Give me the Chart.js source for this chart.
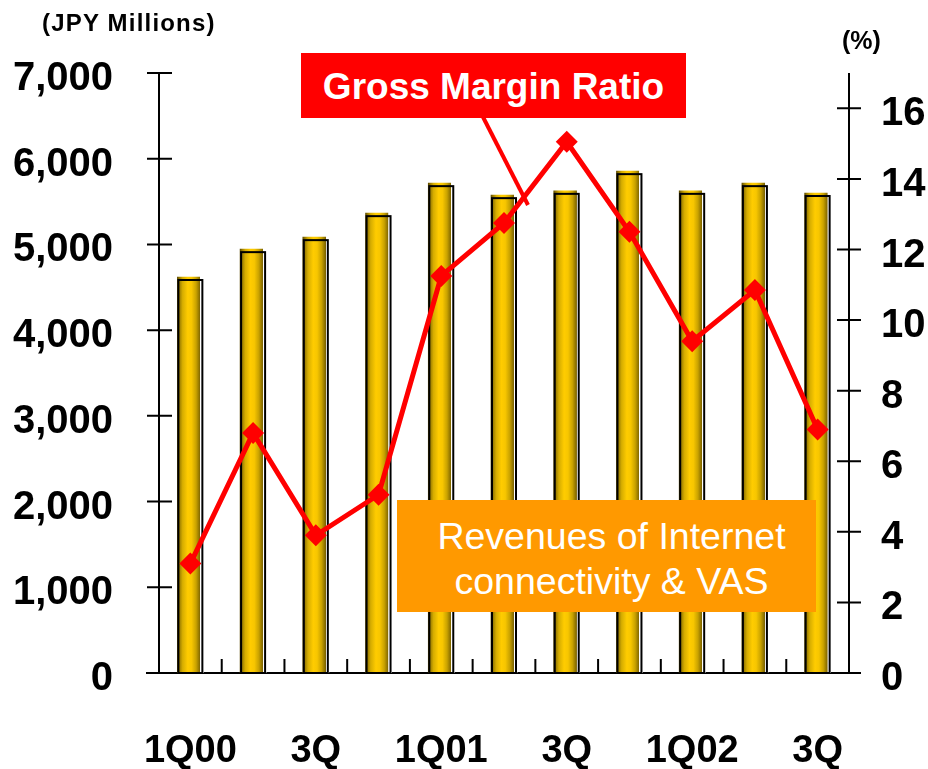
<!DOCTYPE html>
<html lang="en">
<head>
    <meta charset="UTF-8">
    <title>Revenues of Internet connectivity & VAS / Gross Margin Ratio</title>
    <style>
        body {
            margin: 0;
            background: #ffffff;
            font-family: 'Liberation Sans', Arial, sans-serif;
        }
        .wrap {
            position: relative;
            width: 928px;
            height: 769px;
        }
        #revChart {
            position: absolute;
            left: 0;
            top: 0;
        }
        .unit {
            position: absolute;
            font-weight: bold;
            color: #000;
            white-space: nowrap;
            line-height: 1;
        }
        #unitLeft {
            left: 42px;
            top: 11px;
            font-size: 24px;
            letter-spacing: 1.2px;
        }
        #unitRight {
            left: 842px;
            top: 28px;
            font-size: 25px;
        }
        #gmLabel {
            position: absolute;
            left: 301px;
            top: 53px;
            width: 385px;
            height: 65px;
            background: #ff0000;
            color: #fff;
            font-weight: bold;
            font-size: 37px;
            line-height: 67px;
            text-align: center;
            white-space: nowrap;
        }
        #revLabel {
            position: absolute;
            left: 397px;
            top: 500px;
            width: 419px;
            height: 112px;
            background: #ff9900;
            color: #fff;
            font-size: 37.5px;
            line-height: 45px;
            text-align: center;
            padding-top: 14px;
            padding-left: 10px;
            box-sizing: border-box;
            white-space: nowrap;
        }
    </style>
</head>
<body>
    <div class="wrap">
        <canvas id="revChart" width="928" height="769"></canvas>
        <div class="unit" id="unitLeft">(JPY Millions)</div>
        <div class="unit" id="unitRight">(%)</div>
        <div id="gmLabel">Gross Margin Ratio</div>
        <div id="revLabel">Revenues of Internet<br>connectivity &amp; VAS</div>
    </div>

    <script src="https://cdn.jsdelivr.net/npm/chart.js"></script>
    <script>
        // quarters 1Q00 .. 3Q02
        const quarters = ['1Q00', '2Q00', '3Q00', '4Q00', '1Q01', '2Q01', '3Q01', '4Q01', '1Q02', '2Q02', '3Q02'];
        const quarterLabels = ['1Q00', '', '3Q', '', '1Q01', '', '3Q', '', '1Q02', '', '3Q'];
        const revenues = [4620, 4945, 5085, 5365, 5715, 5575, 5625, 5855, 5625, 5715, 5600];
        const grossMargin = [3.1, 6.8, 3.9, 5.05, 11.25, 12.75, 15.05, 12.5, 9.4, 10.85, 6.9];
        const leftTicks = [0, 1000, 2000, 3000, 4000, 5000, 6000, 7000];
        const rightTicks = [0, 2, 4, 6, 8, 10, 12, 14, 16];

        const FONT = "'Liberation Sans', Arial, sans-serif";
        const BAR_W = 26;

        function barGradient(c) {
            const chart = c.chart;
            if (!chart.chartArea) return '#ffcc00';
            const cx = chart.scales.x.getPixelForValue(c.dataIndex);
            const l = cx - BAR_W / 2;
            const g = chart.ctx.createLinearGradient(l, 0, l + BAR_W, 0);
            g.addColorStop(0, '#5e4c00');
            g.addColorStop(0.08, '#9a7c00');
            g.addColorStop(0.2, '#d6ad00');
            g.addColorStop(0.4, '#ffcc00');
            g.addColorStop(0.55, '#f7c600');
            g.addColorStop(0.72, '#c9a200');
            g.addColorStop(0.875, '#7e6500');
            g.addColorStop(0.885, '#ffffff');
            g.addColorStop(1, '#ffffff');
            return g;
        }

        // black outline box behind each bar
        const barOutline = {
            id: 'barOutline',
            afterDatasetDraw(chart, args) {
                if (args.index !== 0) return;
                const ctx = chart.ctx;
                ctx.save();
                ctx.strokeStyle = '#000';
                ctx.lineWidth = 2;
                args.meta.data.forEach(el => {
                    const l = el.x - BAR_W / 2 + 1;
                    ctx.strokeRect(l, el.y + 3, BAR_W - 2, el.base - el.y - 3);
                });
                ctx.restore();
            }
        };

        // axis lines with ticks crossing both sides
        const axisLines = {
            id: 'axisLines',
            beforeDatasetsDraw(chart) {
                const ctx = chart.ctx;
                const { left, right, top, bottom } = chart.chartArea;
                const x = chart.scales.x, y = chart.scales.y, y1 = chart.scales.y1;
                ctx.save();
                ctx.strokeStyle = '#000';
                ctx.lineWidth = 2;
                ctx.beginPath();
                ctx.moveTo(left, top); ctx.lineTo(left, bottom);
                ctx.moveTo(right, top); ctx.lineTo(right, bottom);
                ctx.moveTo(left - 13, bottom); ctx.lineTo(right + 12, bottom);
                leftTicks.forEach(v => {
                    const py = y.getPixelForValue(v);
                    ctx.moveTo(left - 12, py); ctx.lineTo(left + 13, py);
                });
                rightTicks.forEach(v => {
                    const py = y1.getPixelForValue(v);
                    ctx.moveTo(right - 12, py); ctx.lineTo(right + 12, py);
                });
                for (let i = 0; i < quarters.length - 1; i++) {
                    const px = (x.getPixelForValue(i) + x.getPixelForValue(i + 1)) / 2;
                    ctx.moveTo(px, bottom); ctx.lineTo(px, bottom - 14);
                }
                ctx.stroke();
                ctx.restore();
            },
            afterDatasetsDraw(chart) {
                // pointer from the label box to the line
                const ctx = chart.ctx;
                ctx.save();
                ctx.strokeStyle = '#ff0000';
                ctx.lineWidth = 4;
                ctx.beginPath();
                ctx.moveTo(483, 117);
                ctx.lineTo(528, 205);
                ctx.stroke();
                ctx.restore();
            }
        };

        new Chart(document.getElementById('revChart').getContext('2d'), {
            data: {
                labels: quarterLabels,
                datasets: [{
                    type: 'bar',
                    label: 'Revenues of Internet connectivity & VAS',
                    data: revenues,
                    yAxisID: 'y',
                    backgroundColor: barGradient,
                    borderWidth: 0,
                    barThickness: BAR_W,
                    order: 1
                }, {
                    type: 'line',
                    label: 'Gross Margin Ratio',
                    data: grossMargin,
                    yAxisID: 'y1',
                    borderColor: '#ff0000',
                    borderWidth: 5,
                    backgroundColor: '#ff0000',
                    pointStyle: 'rectRot',
                    pointRadius: 11,
                    pointBorderWidth: 0,
                    tension: 0,
                    order: 0
                }]
            },
            options: {
                responsive: false,
                animation: false,
                devicePixelRatio: 1,
                layout: { padding: { top: 73, left: 0, right: 0, bottom: 0 } },
                plugins: {
                    legend: { display: false },
                    tooltip: { enabled: false }
                },
                scales: {
                    x: {
                        grid: { display: false, drawTicks: false },
                        border: { display: false },
                        ticks: {
                            autoSkip: false,
                            maxRotation: 0,
                            padding: 56,
                            color: '#000',
                            font: { family: FONT, size: 38, weight: 'bold' }
                        },
                        afterFit(s) { s.height = 96; }
                    },
                    y: {
                        position: 'left',
                        min: 0,
                        max: 7000,
                        afterBuildTicks(s) { s.ticks = leftTicks.map(v => ({ value: v })); },
                        grid: { display: false, drawTicks: false },
                        border: { display: false },
                        ticks: {
                            padding: 46,
                            labelOffset: 6,
                            color: '#000',
                            font: { family: FONT, size: 40, weight: 'bold' },
                            callback: v => v.toLocaleString('en-US')
                        },
                        afterFit(s) { s.width = 159; }
                    },
                    y1: {
                        position: 'right',
                        min: 0,
                        max: 17,
                        afterBuildTicks(s) { s.ticks = rightTicks.map(v => ({ value: v })); },
                        grid: { display: false, drawTicks: false },
                        border: { display: false },
                        ticks: {
                            padding: 32,
                            labelOffset: 6,
                            color: '#000',
                            font: { family: FONT, size: 40, weight: 'bold' }
                        },
                        afterFit(s) { s.width = 79; }
                    }
                }
            },
            plugins: [axisLines, barOutline]
        });
    </script>
</body>
</html>
